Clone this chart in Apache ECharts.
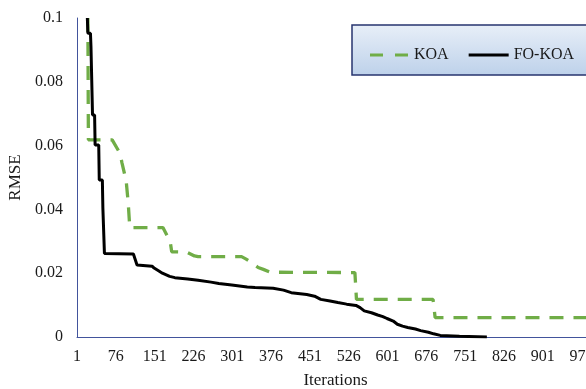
<!DOCTYPE html>
<html>
<head>
<meta charset="utf-8">
<script src="https://cdn.jsdelivr.net/npm/echarts@6/dist/echarts.min.js"></script>
<style>
  html, body { margin: 0; padding: 0; background: #fff; }
  #main { width: 586px; height: 389px; }
</style>
</head>
<body>
<div id="main"></div>
<script>
// iterations 1..1000 on a category axis, labels every 75
const iterations = [];
for (let i = 1; i <= 1000; i++) iterations.push(String(i));

// KOA: [iteration, RMSE] corner points
const koaIter = [22, 23, 69, 72, 84, 88, 96, 100, 103, 167, 181, 184, 213, 228, 235, 319, 327, 336, 351, 361, 375, 538, 541, 689, 693, 1000];
const koaRmse = [0.1, 0.0618, 0.0618, 0.0612, 0.0576, 0.0545, 0.049, 0.042, 0.0343, 0.0343, 0.03, 0.0267, 0.0266, 0.0254, 0.0252, 0.0252, 0.0245, 0.0236, 0.0218, 0.0212, 0.0203, 0.0202, 0.0118, 0.0118, 0.0061, 0.0061];

// FO-KOA
const fokoaIter = [21, 22, 27, 28, 30, 31, 35, 36, 43, 44, 50, 51, 53, 54, 110, 117, 146, 150, 160, 166, 180, 190, 215, 235, 260, 275, 300, 330, 345, 380, 400, 415, 445, 460, 472, 490, 505, 522, 540, 548, 556, 570, 582, 592, 600, 612, 620, 630, 640, 655, 665, 680, 690, 703, 740, 793];
const fokoaRmse = [0.1, 0.0952, 0.0952, 0.091, 0.091, 0.0696, 0.0696, 0.0602, 0.0602, 0.0492, 0.0492, 0.0404, 0.0404, 0.0262, 0.0260, 0.0226, 0.0222, 0.0216, 0.0206, 0.0200, 0.0190, 0.0186, 0.0182, 0.0178, 0.0172, 0.0168, 0.0163, 0.0157, 0.0155, 0.0153, 0.0147, 0.0139, 0.0133, 0.0128, 0.0118, 0.0113, 0.0108, 0.0103, 0.0099, 0.0092, 0.0082, 0.0076, 0.0069, 0.0064, 0.0058, 0.0050, 0.0040, 0.0034, 0.0030, 0.0025, 0.0020, 0.0015, 0.0010, 0.0005, 0.0002, 0];

const yTicks = [0, 0.02, 0.04, 0.06, 0.08, 0.1];

function pairs(xs, ys) {
  return xs.map((x, k) => [String(x), ys[k]]);
}

const font = 'Liberation Serif';
const axisColor = '#42549c';
const textColor = '#1a1a1a';

const chart = echarts.init(document.getElementById('main'));
chart.setOption({
  animation: false,
  grid: {
    left: 77,
    right: -8,
    top: 18,
    bottom: 52,
    outerBoundsMode: 'none'
  },
  graphic: [
    {
      type: 'rect',
      z: 0,
      shape: { x: 352, y: 25, width: 260, height: 50 },
      style: {
        fill: new echarts.graphic.LinearGradient(0, 0, 0, 1, [
          { offset: 0, color: '#e8eff8' },
          { offset: 1, color: '#bdd1ea' }
        ]),
        stroke: '#27356f',
        lineWidth: 1.5
      }
    }
  ],
  legend: {
    z: 10,
    left: 370,
    top: 47,
    padding: 0,
    itemWidth: 40,
    itemHeight: 3,
    itemGap: 20,
    textStyle: { fontFamily: font, fontSize: 16, color: textColor },
    data: [
      { name: 'KOA', icon: 'path://M0 0h13v3h-13z M25 0h13v3h-13z' },
      { name: 'FO-KOA', icon: 'path://M0 0h40v3h-40z' }
    ]
  },
  xAxis: {
    type: 'category',
    data: iterations,
    boundaryGap: false,
    name: 'Iterations',
    nameLocation: 'middle',
    nameGap: 35,
    nameTextStyle: { fontFamily: font, fontSize: 17, color: textColor },
    axisLine: { lineStyle: { color: axisColor, width: 1 } },
    axisTick: { show: false },
    axisLabel: {
      interval: 74,
      margin: 12,
      fontFamily: font,
      fontSize: 16,
      color: textColor
    },
    splitLine: { show: false }
  },
  yAxis: {
    type: 'value',
    min: yTicks[0],
    max: yTicks[yTicks.length - 1],
    interval: 0.02,
    name: 'RMSE',
    nameLocation: 'middle',
    nameGap: 45,
    nameTextStyle: { fontFamily: font, fontSize: 17, color: textColor },
    axisLine: { show: true, lineStyle: { color: axisColor, width: 1 } },
    axisTick: { show: false },
    axisLabel: {
      margin: 14,
      fontFamily: font,
      fontSize: 16,
      color: textColor
    },
    splitLine: { show: false }
  },
  series: [
    {
      name: 'KOA',
      type: 'line',
      data: pairs(koaIter, koaRmse),
      symbol: 'none',
      lineStyle: { color: '#70ad47', width: 3.3, type: [14, 10] },
      itemStyle: { color: '#70ad47' },
      z: 2
    },
    {
      name: 'FO-KOA',
      type: 'line',
      data: pairs(fokoaIter, fokoaRmse),
      symbol: 'none',
      lineStyle: { color: '#000', width: 3 },
      itemStyle: { color: '#000' },
      z: 3
    }
  ]
});
</script>
</body>
</html>
